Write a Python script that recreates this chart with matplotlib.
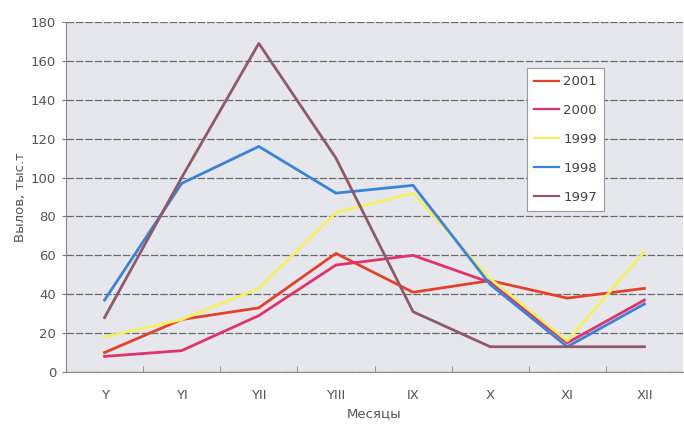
import matplotlib
matplotlib.use("Agg")
import matplotlib.pyplot as plt
import numpy as np

months = ["Y", "YI", "YII", "YIII", "IX", "X", "XI", "XII"]
y2001 = [10, 27, 33, 61, 41, 47, 38, 43]
y2000 = [8, 11, 29, 55, 60, 46, 15, 37]
y1999 = [18, 27, 43, 82, 92, 48, 16, 62]
y1998 = [37, 97, 116, 92, 96, 45, 13, 35]
y1997 = [28, 100, 169, 110, 31, 13, 13, 13]
yticks = [0, 20, 40, 60, 80, 100, 120, 140, 160, 180]

series = [
    ("2001", y2001, "#e2412c"),
    ("2000", y2000, "#e0336b"),
    ("1999", y1999, "#f4f060"),
    ("1998", y1998, "#3b82d9"),
    ("1997", y1997, "#8e5a68"),
]

fig = plt.figure(figsize=(6.84, 4.24), dpi=100)
ax = fig.add_axes([66/684, 52/424, 617/684, 350/424])
ax.set_facecolor("#e6e7ec")

x = np.arange(len(months))
for label, vals, col in series:
    ax.plot(x, vals, color=col, lw=2.0, label=label, zorder=3)

ax.set_xlim(-0.5, len(months) - 0.5)
ax.set_ylim(0, 180)
ax.set_yticks(yticks)
ax.set_xticks(x)
ax.set_xticklabels(months)
ax.set_xticks(np.arange(0.5, len(months) - 0.5, 1.0), minor=True)
ax.tick_params(axis="x", which="major", length=0, pad=12, labelcolor="#555555", labelsize=9.5)
ax.tick_params(axis="x", which="minor", length=4, color="#888888", direction="in")
ax.tick_params(axis="y", length=3, color="#777777", labelcolor="#555555", labelsize=9.5, pad=4)
ax.grid(axis="y", color="#6a6a6a", lw=0.9, ls=(0, (6, 1.5)), zorder=1)
for s in ["top", "right"]:
    ax.spines[s].set_visible(False)
ax.spines["left"].set_color("#888888")
ax.spines["bottom"].set_color("#888888")

ax.set_ylabel("Вылов, тыс.т", color="#555555", fontsize=9.5, labelpad=3)
ax.set_xlabel("Месяцы", color="#555555", fontsize=9.5, labelpad=4)

leg = ax.legend(loc="upper left", bbox_to_anchor=(527/684, 1 - 68/424),
                bbox_transform=fig.transFigure, borderaxespad=0, frameon=True,
                fontsize=9.5, handlelength=1.9, handletextpad=0.3,
                labelspacing=1.2, borderpad=0.55, framealpha=1,
                fancybox=False, edgecolor="#999999", labelcolor="#444444")
leg.get_frame().set_facecolor("white")
leg.get_frame().set_linewidth(0.8)
for ln in leg.get_lines():
    ln.set_linewidth(1.6)

fig.savefig("out.png", dpi=100)
